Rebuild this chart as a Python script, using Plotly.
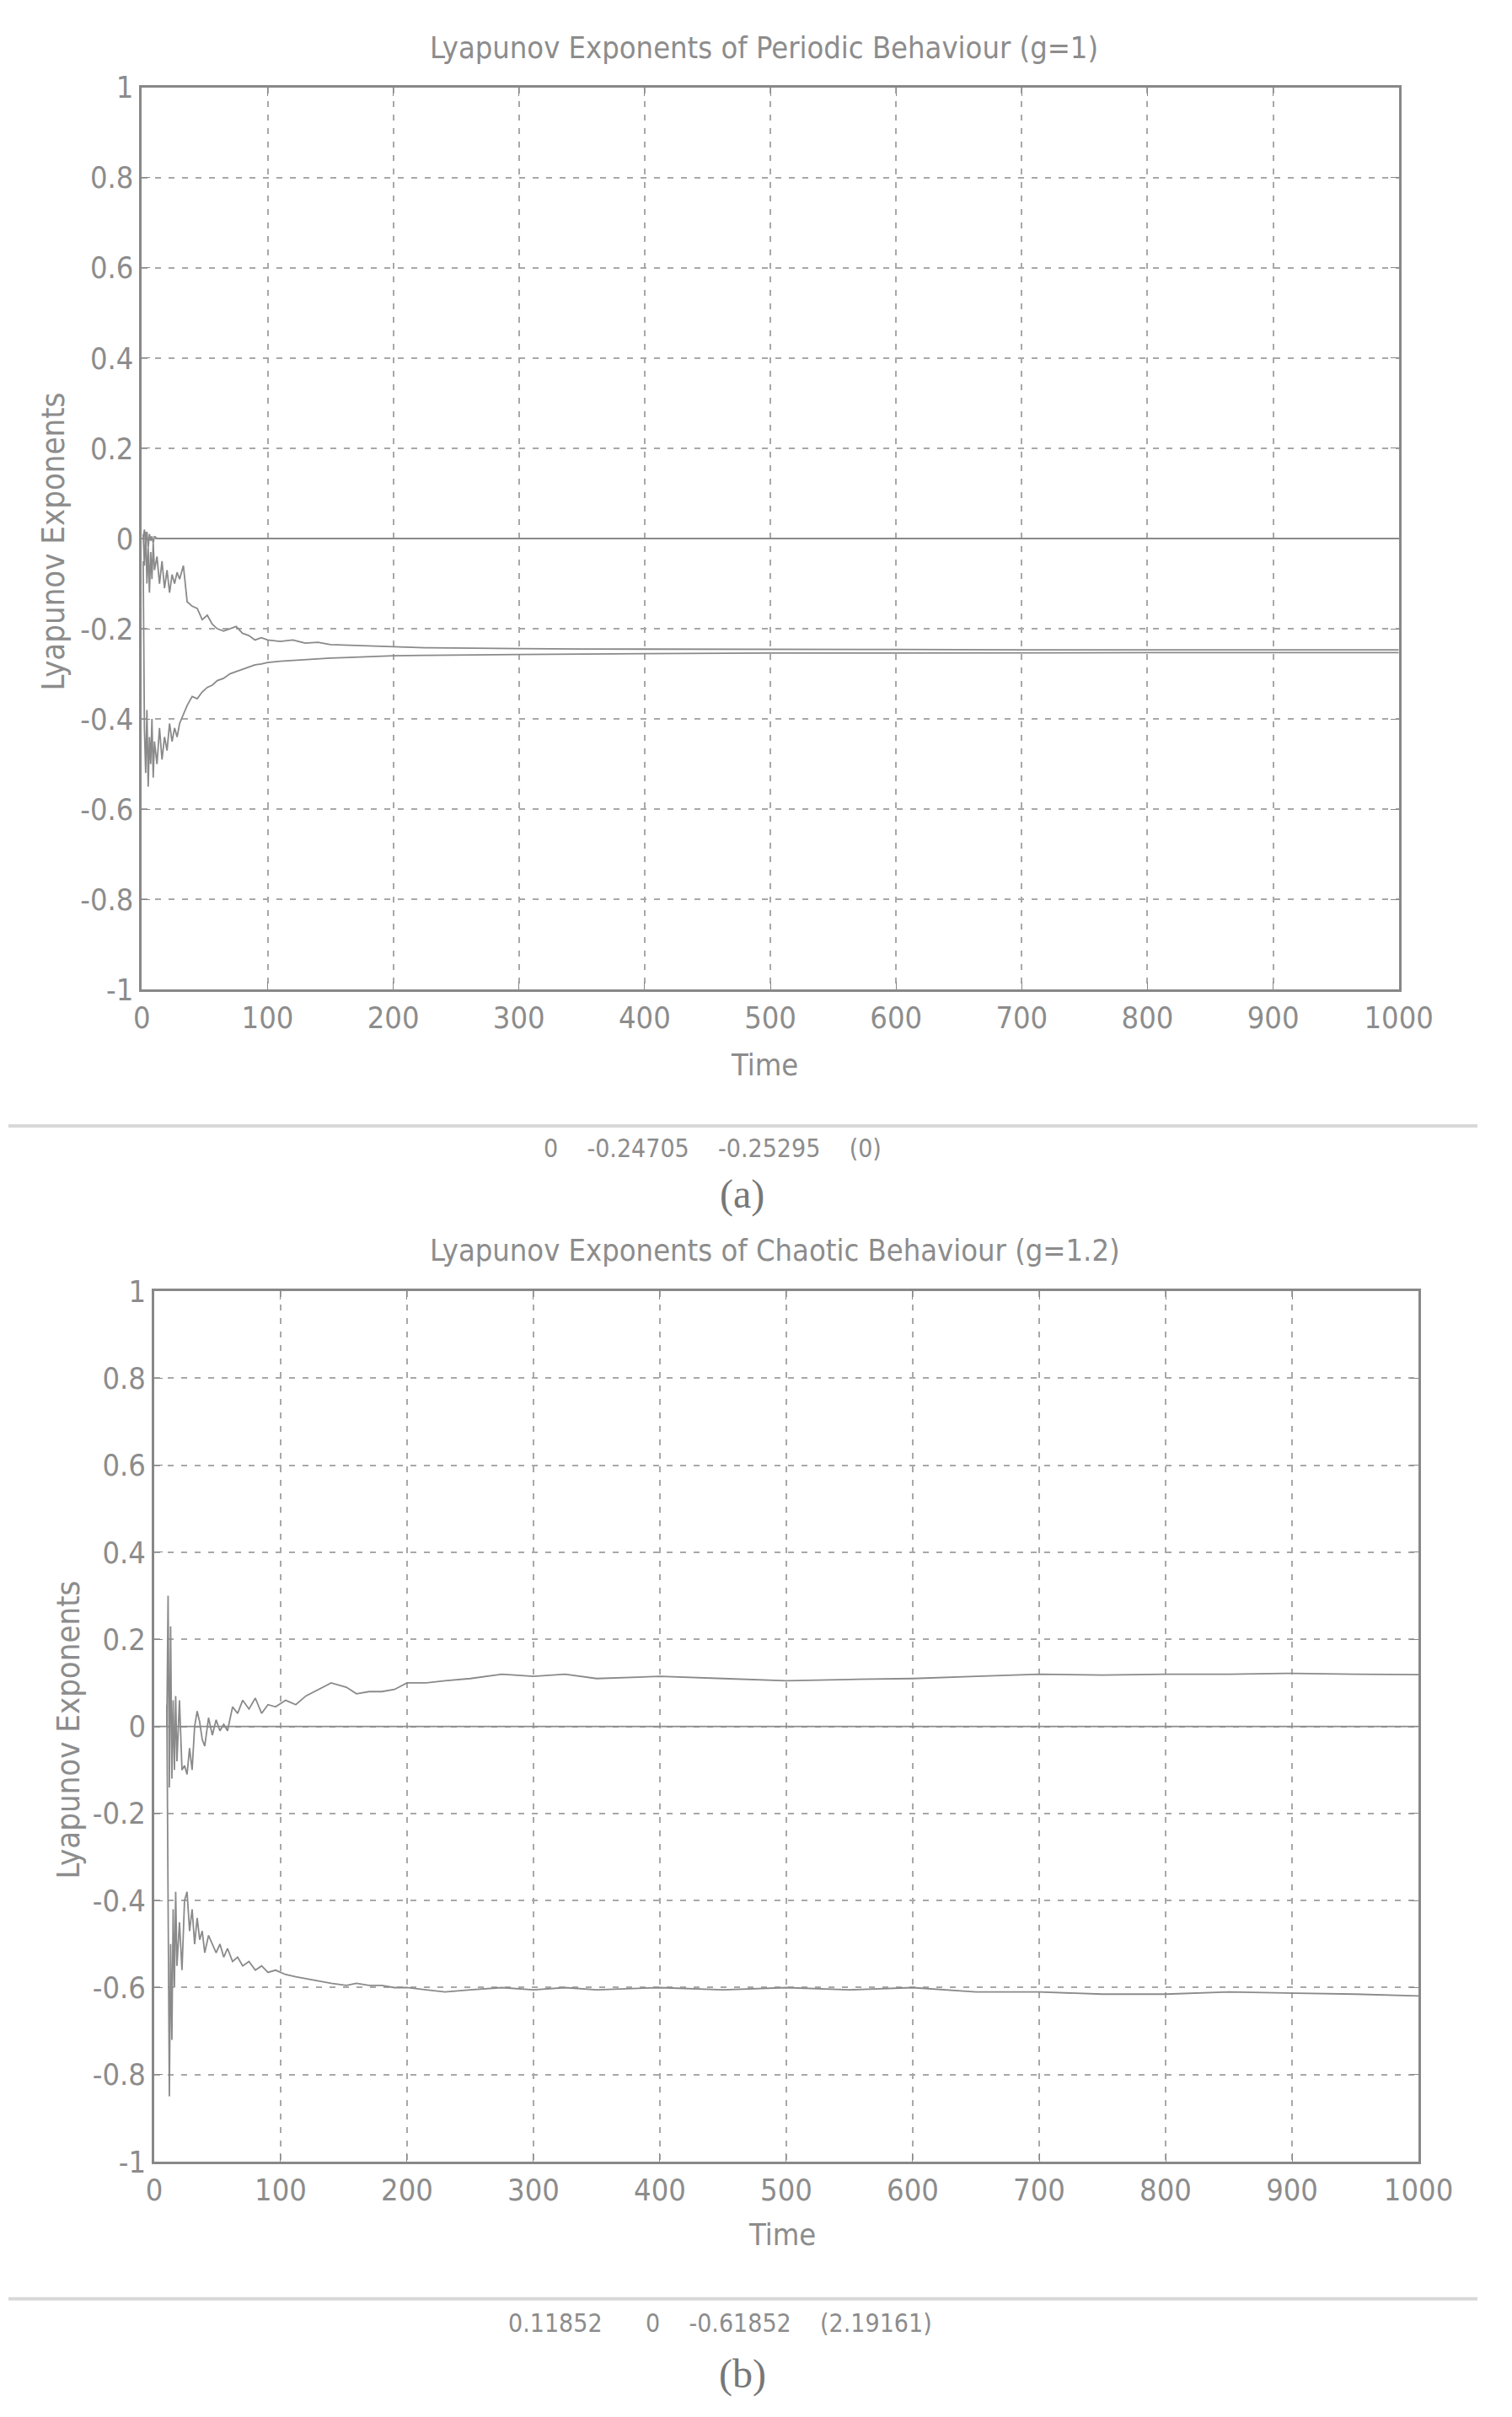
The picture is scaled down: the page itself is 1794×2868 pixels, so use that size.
import plotly.graph_objects as go

W, H = 1794, 2868

# ---------------- data: (a) periodic behaviour, g=1 ----------------
time_a = [1, 2, 3, 4, 5, 6, 7, 8, 9, 10, 12, 14, 16, 18, 20, 22, 24, 26, 28, 30,
          33, 36, 40, 44, 48, 52, 56, 60, 65, 70, 75, 80, 85, 90, 95, 100, 110, 120,
          130, 140, 150, 160, 175, 200, 225, 250, 300, 350, 400, 450, 500, 600, 700,
          800, 900, 1000]
lyap_a1 = [0.0, 0.02, -0.01, 0.015, -0.02, 0.01, -0.005, 0.005, -0.01, 0.005, 0, 0, 0, 0,
           0, 0, 0, 0, 0, 0, 0, 0, 0, 0, 0, 0, 0, 0, 0, 0, 0, 0, 0, 0, 0, 0, 0, 0, 0, 0,
           0, 0, 0, 0, 0, 0, 0, 0, 0, 0, 0, 0, 0, 0, 0, 0]
lyap_a2 = [0.01, -0.06, 0.015, -0.1, -0.02, -0.12, -0.03, -0.09, -0.01, -0.07, -0.04, -0.1,
           -0.05, -0.11, -0.07, -0.12, -0.08, -0.1, -0.075, -0.09, -0.06, -0.14, -0.15,
           -0.155, -0.18, -0.17, -0.19, -0.2, -0.205, -0.2, -0.195, -0.21, -0.215, -0.225,
           -0.22, -0.225, -0.228, -0.225, -0.232, -0.23, -0.235, -0.236, -0.238, -0.24,
           -0.242, -0.243, -0.244, -0.245, -0.245, -0.246, -0.246, -0.246, -0.247, -0.247,
           -0.247, -0.247]
lyap_a3 = [-0.05, -0.42, -0.52, -0.38, -0.55, -0.44, -0.5, -0.4, -0.53, -0.45, -0.5, -0.42,
           -0.49, -0.44, -0.47, -0.41, -0.45, -0.42, -0.44, -0.41, -0.39, -0.37, -0.35,
           -0.355, -0.34, -0.33, -0.325, -0.315, -0.31, -0.3, -0.295, -0.29, -0.285, -0.28,
           -0.278, -0.275, -0.272, -0.27, -0.268, -0.266, -0.265, -0.264, -0.262, -0.26,
           -0.259, -0.258, -0.257, -0.256, -0.255, -0.255, -0.254, -0.254, -0.253, -0.253,
           -0.253, -0.253]

# ---------------- data: (b) chaotic behaviour, g=1.2 ----------------
time_b = [10, 11, 12, 13, 14, 15, 16, 17, 18, 20, 22, 24, 26, 28, 30, 32, 34, 36, 38, 40,
          43, 46, 49, 52, 55, 58, 62, 66, 70, 75, 80, 85, 90, 96, 104, 112, 120, 130, 140,
          152, 160, 170, 180, 190, 200, 215, 230, 250, 275, 300, 325, 350, 400, 450, 500,
          550, 600, 650, 700, 750, 800, 850, 900, 950, 1000]
lyap_b1 = [0.0, 0.3, -0.14, 0.23, -0.12, 0.06, -0.1, 0.07, -0.08, 0.06, -0.1, -0.09, -0.11,
           -0.05, -0.1, 0.0, 0.035, 0.01, -0.03, -0.045, 0.02, -0.02, 0.015, -0.01, 0.005,
           -0.01, 0.045, 0.03, 0.06, 0.04, 0.065, 0.03, 0.05, 0.045, 0.06, 0.05, 0.07,
           0.085, 0.1, 0.09, 0.075, 0.08, 0.08, 0.085, 0.1, 0.1, 0.105, 0.11, 0.12, 0.115,
           0.12, 0.11, 0.115, 0.11, 0.105, 0.108, 0.11, 0.115, 0.12, 0.118, 0.12, 0.12,
           0.122, 0.12, 0.119]
time_b0 = [0, 1000]
lyap_b2 = [0, 0]
lyap_b3 = [0.05, -0.45, -0.85, -0.5, -0.72, -0.42, -0.6, -0.38, -0.55, -0.45, -0.56, -0.4,
           -0.38, -0.47, -0.42, -0.5, -0.44, -0.49, -0.47, -0.52, -0.48, -0.5, -0.52, -0.5,
           -0.53, -0.51, -0.54, -0.53, -0.55, -0.54, -0.56, -0.55, -0.565, -0.56, -0.57,
           -0.575, -0.58, -0.585, -0.59, -0.595, -0.59, -0.595, -0.595, -0.6, -0.6, -0.605,
           -0.61, -0.605, -0.6, -0.605, -0.6, -0.605, -0.6, -0.605, -0.6, -0.605, -0.6,
           -0.61, -0.61, -0.615, -0.615, -0.61, -0.612, -0.615, -0.619]

x_ticks = [0, 100, 200, 300, 400, 500, 600, 700, 800, 900, 1000]
y_ticks = [-1, -0.8, -0.6, -0.4, -0.2, 0, 0.2, 0.4, 0.6, 0.8, 1]
y_tick_labels = ["-1", "-0.8", "-0.6", "-0.4", "-0.2", "0", "0.2", "0.4", "0.6", "0.8", "1"]

titles = ["Lyapunov Exponents of Periodic Behaviour (g=1)",
          "Lyapunov Exponents of Chaotic Behaviour (g=1.2)"]
results = ["0    -0.24705    -0.25295    (0)",
           "0.11852      0    -0.61852    (2.19161)"]
captions = ["(a)", "(b)"]

# ---------------- styling ----------------
NARROW = "Liberation Sans Narrow, DejaVu Sans Condensed, Arial Narrow, sans-serif"
TXT = "#8c8c8c"
LINE = "#8a8a8a"
GRID = "#a8a8a8"

def px_x(p):
    return p / W

def px_y(p):
    return 1 - p / H

fig = go.Figure()

line_style = dict(color=LINE, width=1.8)
for y in (lyap_a1, lyap_a2, lyap_a3):
    fig.add_trace(go.Scatter(x=time_a, y=y, mode="lines", line=line_style,
                             xaxis="x", yaxis="y", showlegend=False))
fig.add_trace(go.Scatter(x=time_b, y=lyap_b1, mode="lines", line=line_style,
                         xaxis="x2", yaxis="y2", showlegend=False))
fig.add_trace(go.Scatter(x=time_b0, y=lyap_b2, mode="lines", line=line_style,
                         xaxis="x2", yaxis="y2", showlegend=False))
fig.add_trace(go.Scatter(x=time_b, y=lyap_b3, mode="lines", line=line_style,
                         xaxis="x2", yaxis="y2", showlegend=False))

def xaxis(domain, anchor):
    return dict(domain=domain, anchor=anchor, range=[0, 1000], tickvals=x_ticks,
                showgrid=True, gridcolor=GRID, gridwidth=2, griddash="7px,9px",
                showline=True, linecolor="#888", linewidth=2.5, mirror="ticks",
                ticks="inside", ticklen=10, tickcolor="#888", zeroline=False,
                tickfont=dict(family=NARROW, size=36, color=TXT))

def yaxis(domain, anchor):
    return dict(domain=domain, anchor=anchor, range=[-1, 1], tickvals=y_ticks,
                ticktext=y_tick_labels,
                showgrid=True, gridcolor=GRID, gridwidth=2, griddash="7px,9px",
                showline=True, linecolor="#888", linewidth=2.5, mirror="ticks",
                ticks="inside", ticklen=10, tickcolor="#888", zeroline=False,
                tickfont=dict(family=NARROW, size=36, color=TXT))

fig.update_layout(
    width=W, height=H,
    margin=dict(l=0, r=0, t=0, b=0),
    paper_bgcolor="#ffffff", plot_bgcolor="#ffffff",
    xaxis=xaxis([px_x(163), px_x(1698)], "y"),
    yaxis=yaxis([px_y(1171), px_y(85)], "x"),
    xaxis2=xaxis([px_x(178), px_x(1722)], "y2"),
    yaxis2=yaxis([px_y(2582), px_y(1534)], "x2"),
)

ann = []
def text(x, y, s, size=34, family=NARROW, angle=0, color=TXT):
    ann.append(dict(x=px_x(x), y=px_y(y), xref="paper", yref="paper", text=s,
                    showarrow=False, xanchor="center", yanchor="middle",
                    textangle=angle, font=dict(family=family, size=size, color=color)))

text(923, 37, titles[0], size=36)
text(936, 1485, titles[1], size=36)
text(55, 631, "Lyapunov Exponents", size=38, angle=-90)
text(73, 2062, "Lyapunov Exponents", size=38, angle=-90)
text(923, 1262, "Time", size=36)
text(945, 2670, "Time", size=36)
text(860, 1362, results[0], size=30)
text(869, 2776, results[1], size=30)
text(896, 1417, captions[0], size=48, family="Liberation Serif, DejaVu Serif, serif", color="#777")
text(896, 2838, captions[1], size=48, family="Liberation Serif, DejaVu Serif, serif", color="#777")
fig.update_layout(annotations=ann)

shapes = []
for yy in (1335, 2747):
    shapes.append(dict(type="line", xref="paper", yref="paper", x0=0.0, x1=1.0,
                       y0=px_y(yy), y1=px_y(yy), line=dict(color="#d8d8d8", width=4)))
fig.update_layout(shapes=shapes)

fig.write_html("out.html")
